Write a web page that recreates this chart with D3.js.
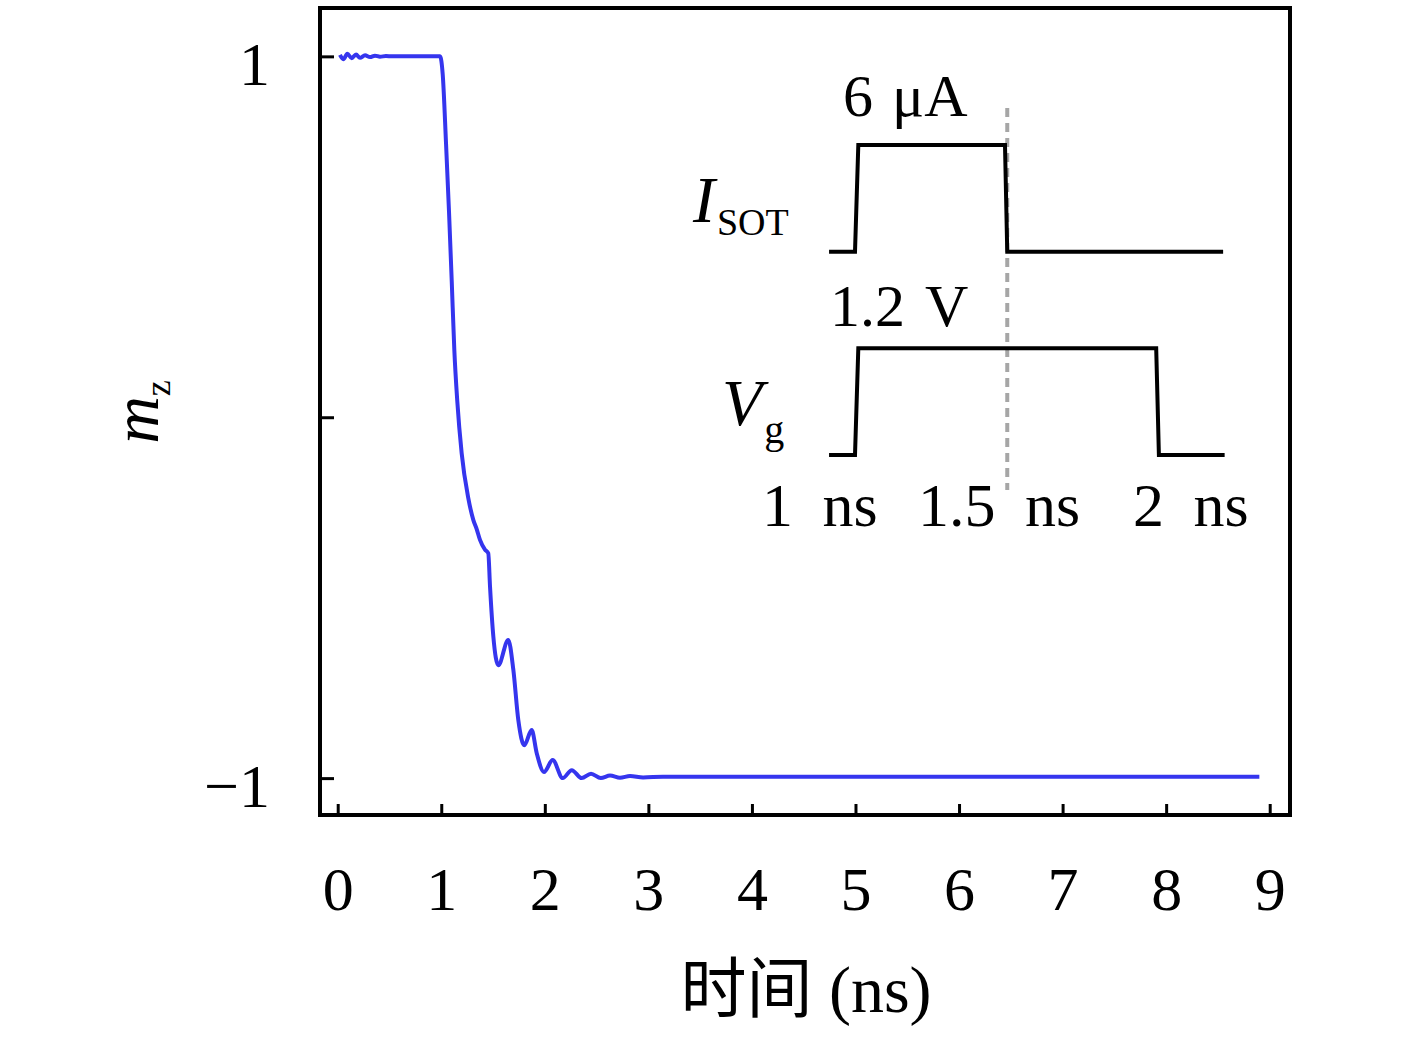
<!DOCTYPE html>
<html>
<head>
<meta charset="utf-8">
<script src="https://cdn.jsdelivr.net/npm/d3@7"></script>
<style>
  body { margin: 0; background: #fff; }
  text { font-family: "Liberation Serif", "DejaVu Serif", serif; fill: #000; }
</style>
</head>
<body>
<div id="chart"></div>
<script>
// time (ns) and m_z
let times = [0.022, 0.054, 0.093, 0.135, 0.177, 0.215, 0.264, 0.312, 0.36, 0.408, 0.466, 0.524, 0.60,
  0.988, 1.014, 1.046, 1.075, 1.101, 1.126, 1.155, 1.197, 1.261, 1.310, 1.342, 1.374, 1.422, 1.454,
  1.471, 1.503, 1.551, 1.647, 1.696, 1.744, 1.802, 1.873, 1.922, 1.992, 2.076, 2.173, 2.260, 2.356,
  2.446, 2.540, 2.630, 2.726, 2.823, 2.949, 3.142, 8.90]
let mz = [1.004, 0.992, 1.007, 0.995, 1.005, 0.996, 1.003, 0.998, 1.002, 0.999, 1.001, 1.0, 1.0,
  1.0, 0.950, 0.759, 0.568, 0.378, 0.187, 0.043, -0.100, -0.224, -0.285, -0.310, -0.340, -0.367, -0.377,
  -0.470, -0.608, -0.687, -0.617, -0.700, -0.839, -0.909, -0.867, -0.931, -0.983, -0.950, -1.0, -0.978, -1.0,
  -0.988, -1.0, -0.993, -0.999, -0.994, -0.998, -0.996, -0.996]

let xTicks = [0, 1, 2, 3, 4, 5, 6, 7, 8, 9]
let yTicks = [1, 0, -1]
let yTickLabels = ["1", "", "\u22121"]

// inset pulses (time in ns, level 0/1)
let isotT = [0.909, 0.995, 1.006, 1.4925, 1.500, 2.216]
let isotV = [0, 0, 1, 1, 0, 0]
let vgT = [0.909, 0.995, 1.006, 1.994, 2.003, 2.221]
let vgV = [0, 0, 1, 1, 0, 0]
let insetLabels = ["1 ns", "1.5 ns", "2 ns"]

let width = 1417
let height = 1039

let svg = d3.select("#chart")
  .append("svg")
  .attr("width", width)
  .attr("height", height)

svg.append("rect").attr("width", width).attr("height", height).attr("fill", "#fff")

let x = d3.scaleLinear().domain([-0.171, 9.196]).range([320, 1290])
let y = d3.scaleLinear().domain([-1.1022, 1.134]).range([815, 8])

// ticks (inward)
let xAxis = svg.append("g")
  .attr("transform", "translate(0,815)")
  .call(d3.axisBottom(x).tickValues(xTicks).tickSize(-11).tickFormat(d3.format("d")))
xAxis.select(".domain").remove()
xAxis.selectAll("line").attr("stroke", "#000").attr("stroke-width", 3)
xAxis.selectAll("text")
  .attr("y", 95).attr("dy", null)
  .style("font-size", "62px")
  .style("font-family", "Liberation Serif")

let yAxis = svg.append("g")
  .attr("transform", "translate(320,0)")
  .call(d3.axisLeft(y).tickValues(yTicks).tickSize(-14).tickFormat((d, i) => yTickLabels[i]))
yAxis.select(".domain").remove()
yAxis.selectAll("line").attr("stroke", "#000").attr("stroke-width", 3)
yAxis.selectAll("text")
  .attr("x", -50).attr("dy", 28)
  .attr("text-anchor", "end")
  .style("font-size", "62px")
  .style("font-family", "Liberation Serif")

// frame
svg.append("rect")
  .attr("x", 320).attr("y", 8)
  .attr("width", 970).attr("height", 807)
  .attr("fill", "none")
  .attr("stroke", "#000")
  .attr("stroke-width", 4)

// m_z curve
let pts = times.map((t, i) => [t, mz[i]])
let line = d3.line()
  .x(d => x(d[0]))
  .y(d => y(d[1]))
  .curve(d3.curveMonotoneX)

svg.append("path")
  .datum(pts)
  .attr("d", line)
  .attr("fill", "none")
  .attr("stroke", "#3535ee")
  .attr("stroke-width", 4)
  .attr("stroke-linejoin", "round")

// inset
let xi = d3.scaleLinear().domain([1, 2]).range([856.5, 1158])
let yI = d3.scaleLinear().domain([0, 1]).range([251.7, 145])
let yV = d3.scaleLinear().domain([0, 1]).range([455, 348.3])

svg.append("line")
  .attr("x1", xi(1.5)).attr("x2", xi(1.5))
  .attr("y1", 108).attr("y2", 490)
  .attr("stroke", "#a6a6a6")
  .attr("stroke-width", 4)
  .attr("stroke-dasharray", "9,6")

let pulse = (ts, vs, ys) => d3.line()
  .x(d => xi(d[0]))
  .y(d => ys(d[1]))(ts.map((t, i) => [t, vs[i]]))

svg.append("path")
  .attr("d", pulse(isotT, isotV, yI))
  .attr("fill", "none").attr("stroke", "#000").attr("stroke-width", 4)
svg.append("path")
  .attr("d", pulse(vgT, vgV, yV))
  .attr("fill", "none").attr("stroke", "#000").attr("stroke-width", 4)

svg.append("text").attr("x", 843).attr("y", 116)
  .style("font-size", "60px").style("word-spacing", "4px").text("6 \u03bcA")
svg.append("text").attr("x", 830).attr("y", 326)
  .style("font-size", "60px").style("word-spacing", "6px").text("1.2 V")

let iLab = svg.append("text").attr("x", 693).attr("y", 222).style("font-size", "66px")
iLab.append("tspan").style("font-style", "italic").text("I")
iLab.append("tspan").attr("dx", 2).attr("dy", 13).style("font-size", "38px").text("SOT")

let vLab = svg.append("text").attr("x", 722).attr("y", 425).style("font-size", "66px")
vLab.append("tspan").style("font-style", "italic").text("V")
vLab.append("tspan").attr("dx", 2).attr("dy", 18).style("font-size", "40px").text("g")

let insetX = [762, 918, 1133]
svg.selectAll(".ilab")
  .data(insetLabels)
  .enter()
  .append("text")
  .attr("class", "ilab")
  .attr("x", (d, i) => insetX[i])
  .attr("y", 526)
  .style("font-size", "62px")
  .style("word-spacing", "14px")
  .text(d => d)

// axis titles
let xt = svg.append("text")
  .attr("x", 806).attr("y", 1012)
  .attr("text-anchor", "middle")
  .style("font-size", "66px")
xt.append("tspan").style("font-family", "Noto Sans CJK SC").text("时间")
xt.append("tspan").text(" (ns)")

let yt = svg.append("text")
  .attr("transform", "translate(158,412) rotate(-90)")
  .attr("text-anchor", "middle")
  .style("font-size", "66px")
yt.append("tspan").style("font-style", "italic").text("m")
yt.append("tspan").attr("dy", 12).style("font-size", "36px").text("z")
</script>
</body>
</html>
